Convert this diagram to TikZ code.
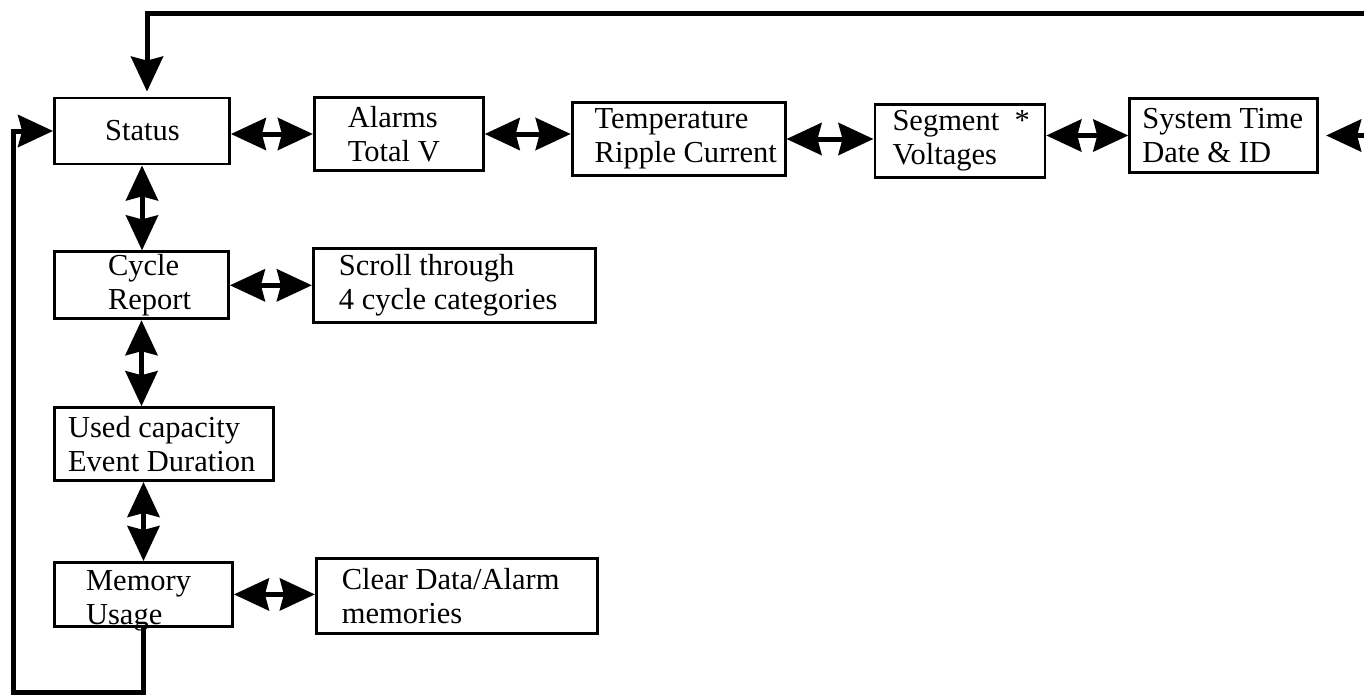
\documentclass[tikz,border=0pt]{standalone}
\usepackage{fontspec}
\setmainfont{Liberation Serif}
\usetikzlibrary{positioning,arrows.meta}

\begin{document}
\begin{tikzpicture}[x=1pt,y=-1pt,
    hd/.tip={Stealth[length=35pt,width=32pt,inset=4pt]},
    box/.style 2 args={draw,line width=2.8pt,align=left,inner sep=0pt,
      text width=#1,execute at begin node={\leftskip=#2\spaceskip=0pt\xspaceskip=0pt\relax},
      font=\fontsize{30.5pt}{34pt}\selectfont},
    dbl/.style={line width=5pt,hd-hd},
    ret/.style={line width=5pt,-hd}]
    \path[use as bounding box] (0,0) rectangle (1364,698);
    \clip (0,0) rectangle (1364,698);
    % top row
    \node[box={175pt}{50.6pt},minimum height=66pt] (b_status) at (142,131) {Status};
    \node[box={169pt}{33.6pt},minimum height=73pt] (b_alarms) [right=82pt of b_status,yshift=-3pt] {Alarms\\Total V};
    \node[box={213pt}{22.6pt},minimum height=73pt] (b_temp) [right=86pt of b_alarms,yshift=-5pt] {Temperature\\Ripple Current};
    \node[box={170pt}{17.6pt},minimum height=73pt] (b_seg) [right=87pt of b_temp,yshift=-2pt] {Segment~~*\\Voltages};
    \node[box={188pt}{12.6pt},minimum height=74pt] (b_sys) [right=82pt of b_seg,yshift=5.5pt] {System Time\\Date \& ID};
    % left column
    \node[box={174pt}{53.6pt},minimum height=67pt] (b_cycle) [below=85pt of b_status.south west,anchor=north west] {Cycle\\Report};
    \node[box={282pt}{25.6pt},minimum height=74pt] (b_scroll) [right=82pt of b_cycle] {Scroll through\\4 cycle categories};
    \node[box={219pt}{13.6pt},minimum height=73pt] (b_used) [below=86pt of b_cycle.south west,anchor=north west] {Used capacity\\Event Duration};
    \node[box={178pt}{31.6pt},minimum height=64pt,text height=28pt,text depth=35pt] (b_mem) [below=79pt of b_used.south west,anchor=north west] {Memory\\Usage};
    \node[box={281pt}{25.6pt},minimum height=75pt] (b_clear) [right=81pt of b_mem,yshift=-1.5pt] {Clear Data/Alarm\\memories};
    \path[dbl]
    (b_alarms.west -| b_status.east) edge (b_alarms.west)
    (b_alarms.east) edge (b_alarms.east -| b_temp.west)
    (b_temp.east) edge (b_temp.east -| b_seg.west)
    (b_sys.west -| b_seg.east) edge (b_sys.west)
    (b_cycle.east) edge (b_cycle.east -| b_scroll.west)
    (b_mem.east) edge (b_mem.east -| b_clear.west)
    (b_status.south) edge (b_status.south |- b_cycle.north)
    (b_cycle.south) edge (b_cycle.south |- b_used.north)
    (b_mem.north |- b_used.south) edge (b_mem.north)
    ; %end path
    % loops back to Status
    \coordinate (c_top) at (147,14);
    \coordinate (c_right) at (1400,14);
    \coordinate (c_bottom) at (13,692);
    \draw[dbl,shorten <=7pt,shorten >=5pt] (b_sys.east) -- (b_sys.east -| c_right) -- (c_right) -- (c_top) -- (c_top |- b_status.north);
    \draw[ret] (b_mem.south) -- (b_mem.south |- c_bottom) -- (c_bottom) -- (c_bottom |- b_status.west) -- (b_status.west);
\end{tikzpicture}
\end{document}
